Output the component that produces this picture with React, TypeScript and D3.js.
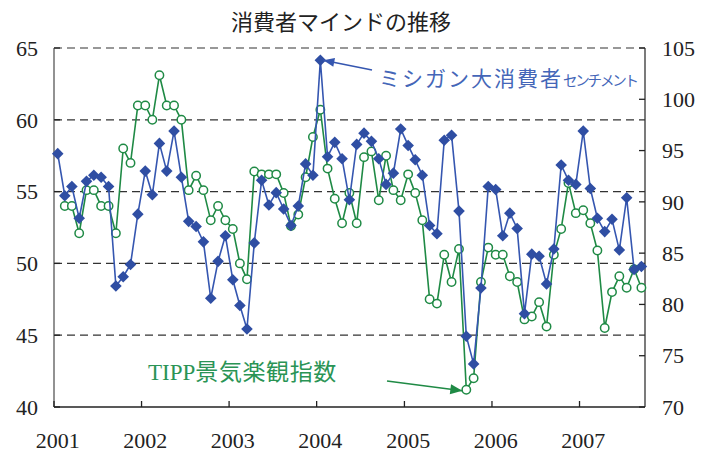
import React from "react";
import * as d3 from "d3";

// ---- data ----
const title = "消費者マインドの推移";
const yearLabels = ["2001", "2002", "2003", "2004", "2005", "2006", "2007"];
const leftTicks = [40, 45, 50, 55, 60, 65];
const rightTicks = [70, 75, 80, 85, 90, 95, 100, 105];
const gridValues = [45, 50, 55, 60, 65];

// University of Michigan consumer sentiment (right axis), Jan 2001 - Sep 2007
const michiganStart = "2001-01";
const michigan = [
  94.7, 90.6, 91.5, 88.4, 92.0, 92.6, 92.4, 91.5, 81.8, 82.7, 83.9, 88.8,
  93.0, 90.7, 95.7, 93.0, 96.9, 92.4, 88.1, 87.6, 86.1, 80.6, 84.2, 86.7,
  82.4, 79.9, 77.6, 86.0, 92.1, 89.7, 90.9, 89.3, 87.7, 89.6, 93.7, 92.6,
  103.8, 94.4, 95.8, 94.2, 90.2, 95.6, 96.7, 95.9, 94.2, 91.7, 92.8, 97.1,
  95.5, 94.1, 92.6, 87.7, 86.9, 96.0, 96.5, 89.1, 76.9, 74.2, 81.6, 91.5,
  91.2, 86.7, 88.9, 87.4, 79.1, 84.9, 84.7, 82.0, 85.4, 93.6, 92.1, 91.7,
  96.9, 91.3, 88.4, 87.1, 88.3, 85.3, 90.4, 83.4, 83.7,
];

// TIPP economic optimism index (left axis), Feb 2001 - Sep 2007
const tippStart = "2001-02";
const tipp = [
  54.0, 54.0, 52.1, 55.1, 55.1, 54.0, 54.0, 52.1, 58.0, 57.0, 61.0,
  61.0, 60.0, 63.1, 61.0, 61.0, 60.0, 55.1, 56.1, 55.1, 53.0, 54.0, 53.0,
  52.4, 50.0, 48.9, 56.4, 56.2, 56.2, 56.2, 54.9, 52.6, 53.4, 56.0, 58.8,
  60.7, 56.6, 54.5, 52.8, 54.9, 52.8, 57.4, 57.8, 54.4, 57.5, 55.1, 54.4,
  56.2, 54.9, 53.0, 47.5, 47.2, 50.6, 48.7, 51.0, 41.2, 42.0, 48.7, 51.1,
  50.6, 50.6, 49.1, 48.7, 46.1, 46.3, 47.3, 45.6, 50.6, 52.4, 55.6, 53.5,
  53.7, 52.8, 50.9, 45.5, 48.0, 49.1, 48.3, 49.6, 48.3,
];

const michiganLabelMain = "ミシガン大消費者";
const michiganLabelSmall = "センチメント";
const tippLabelLatin = "TIPP";
const tippLabelJp = "景気楽観指数";

// ---- layout ----
const W = 716;
const H = 453;
const plotLeft = 54;
const plotRight = 645;
const plotTop = 48;
const plotBottom = 407;

const BLUE = "#2f4ea3";
const BLUE_LINE = "#3556b0";
const GREEN = "#1f8a45";
const BLUE_TEXT = "#4466b8";
const GREEN_TEXT = "#2a9455";

const parseMonth = d3.timeParse("%Y-%m");
const monthMid = (d: Date) =>
  new Date((d.getTime() + d3.timeMonth.offset(d, 1).getTime()) / 2);

function seriesPoints(start: string, values: number[]) {
  const s = parseMonth(start)!;
  return values.map((v, i) => ({ date: monthMid(d3.timeMonth.offset(s, i)), v }));
}

const x = d3
  .scaleTime()
  .domain([new Date(2001, 0, 1), new Date(2007, 9, 1)])
  .range([plotLeft, plotRight]);
const yL = d3.scaleLinear().domain([40, 65]).range([plotBottom, plotTop]);
const yR = d3.scaleLinear().domain([70, 105]).range([plotBottom, plotTop]);

function arrowHead(x1: number, y1: number, x2: number, y2: number, len: number, half: number) {
  const a = Math.atan2(y2 - y1, x2 - x1);
  const bx = x2 - len * Math.cos(a);
  const by = y2 - len * Math.sin(a);
  const px = -Math.sin(a) * half;
  const py = Math.cos(a) * half;
  return `M${x2},${y2}L${bx + px},${by + py}L${bx - px},${by - py}Z`;
}

const serifStyle = { fontFamily: "Liberation Serif, Times New Roman, DejaVu Serif, serif" };
const jpStyle = { fontFamily: "Noto Sans CJK JP, sans-serif" };

export default function App() {
  const mPts = seriesPoints(michiganStart, michigan);
  const tPts = seriesPoints(tippStart, tipp);

  const mLine = d3
    .line<{ date: Date; v: number }>()
    .x((d) => x(d.date))
    .y((d) => yR(d.v));
  const tLine = d3
    .line<{ date: Date; v: number }>()
    .x((d) => x(d.date))
    .y((d) => yL(d.v));

  const years = yearLabels.map((y) => new Date(+y, 0, 1));

  // annotation arrows
  const peak = mPts[36];
  const bTipX = x(peak.date) + 3;
  const bTipY = yR(peak.v);
  const bFromX = 372;
  const bFromY = 70;
  const low = tPts[55];
  const gTipX = x(low.date) - 4;
  const gTipY = yL(low.v) + 1;
  const gFromX = 387;
  const gFromY = 381;

  return (
    <svg
      width={W}
      height={H}
      style={{ position: "absolute", left: 0, top: 0, background: "#fff" }}
    >
      <rect x={0} y={0} width={W} height={H} fill="#fff" />
      <text x={341} y={30} textAnchor="middle" style={jpStyle} fontSize={22} fill="#222">
        {title}
      </text>

      {/* grid */}
      {gridValues.map((g) => (
        <line
          key={g}
          x1={plotLeft}
          x2={plotRight}
          y1={yL(g)}
          y2={yL(g)}
          stroke="#333"
          strokeWidth={1.2}
          strokeDasharray="8,5"
        />
      ))}

      {/* axes */}
      <line x1={plotLeft} x2={plotLeft} y1={plotTop} y2={plotBottom} stroke="#777" strokeWidth={1.6} />
      <line x1={plotRight} x2={plotRight} y1={plotTop} y2={plotBottom} stroke="#333" strokeWidth={1.3} />
      <line x1={plotLeft} x2={plotRight} y1={plotBottom} y2={plotBottom} stroke="#222" strokeWidth={1.6} />

      {leftTicks.map((t) => (
        <g key={"l" + t}>
          <line x1={plotLeft} x2={plotLeft + 6} y1={yL(t)} y2={yL(t)} stroke="#222" strokeWidth={1.3} />
          <text x={38} y={yL(t)} dy="0.35em" textAnchor="end" style={serifStyle} fontSize={22} fill="#222">
            {t}
          </text>
        </g>
      ))}
      {rightTicks.map((t) => (
        <g key={"r" + t}>
          <line x1={plotRight - 6} x2={plotRight} y1={yR(t)} y2={yR(t)} stroke="#222" strokeWidth={1.3} />
          <text x={662} y={yR(t)} dy="0.35em" textAnchor="start" style={serifStyle} fontSize={22} fill="#222">
            {t}
          </text>
        </g>
      ))}
      {years.map((d, i) => (
        <g key={"x" + i}>
          <line x1={x(d)} x2={x(d)} y1={plotBottom} y2={plotBottom - 6} stroke="#222" strokeWidth={1.3} />
          <text x={x(monthMid(d))} y={448} textAnchor="middle" style={serifStyle} fontSize={22} fill="#222">
            {yearLabels[i]}
          </text>
        </g>
      ))}

      {/* TIPP */}
      <path d={tLine(tPts) || ""} fill="none" stroke={GREEN} strokeWidth={1.6} />
      {tPts.map((p, i) => (
        <circle
          key={"t" + i}
          cx={x(p.date)}
          cy={yL(p.v)}
          r={4.2}
          fill="#fff"
          stroke={GREEN}
          strokeWidth={1.5}
        />
      ))}

      {/* Michigan */}
      <path d={mLine(mPts) || ""} fill="none" stroke={BLUE_LINE} strokeWidth={1.6} />
      {mPts.map((p, i) => {
        const cx = x(p.date);
        const cy = yR(p.v);
        const s = 5.8;
        return (
          <path
            key={"m" + i}
            d={`M${cx},${cy - s}L${cx + s},${cy}L${cx},${cy + s}L${cx - s},${cy}Z`}
            fill={BLUE}
          />
        );
      })}

      {/* annotations */}
      <line x1={bFromX} y1={bFromY} x2={bTipX} y2={bTipY} stroke={BLUE_LINE} strokeWidth={1.6} />
      <path d={arrowHead(bFromX, bFromY, bTipX, bTipY, 11, 4.5)} fill={BLUE_LINE} />
      <text x={379} y={86} style={jpStyle} fill={BLUE_TEXT}>
        <tspan fontSize={21} letterSpacing={2}>{michiganLabelMain}</tspan>
        <tspan fontSize={14.5} letterSpacing={-2.2}>{michiganLabelSmall}</tspan>
      </text>

      <line x1={gFromX} y1={gFromY} x2={gTipX} y2={gTipY} stroke={GREEN} strokeWidth={1.6} />
      <path d={arrowHead(gFromX, gFromY, gTipX, gTipY, 12, 5)} fill={GREEN} />
      <text x={148} y={380} fill={GREEN_TEXT}>
        <tspan style={serifStyle} fontSize={23}>{tippLabelLatin}</tspan>
        <tspan style={jpStyle} fontSize={23} letterSpacing={0.6}>{tippLabelJp}</tspan>
      </text>
    </svg>
  );
}
